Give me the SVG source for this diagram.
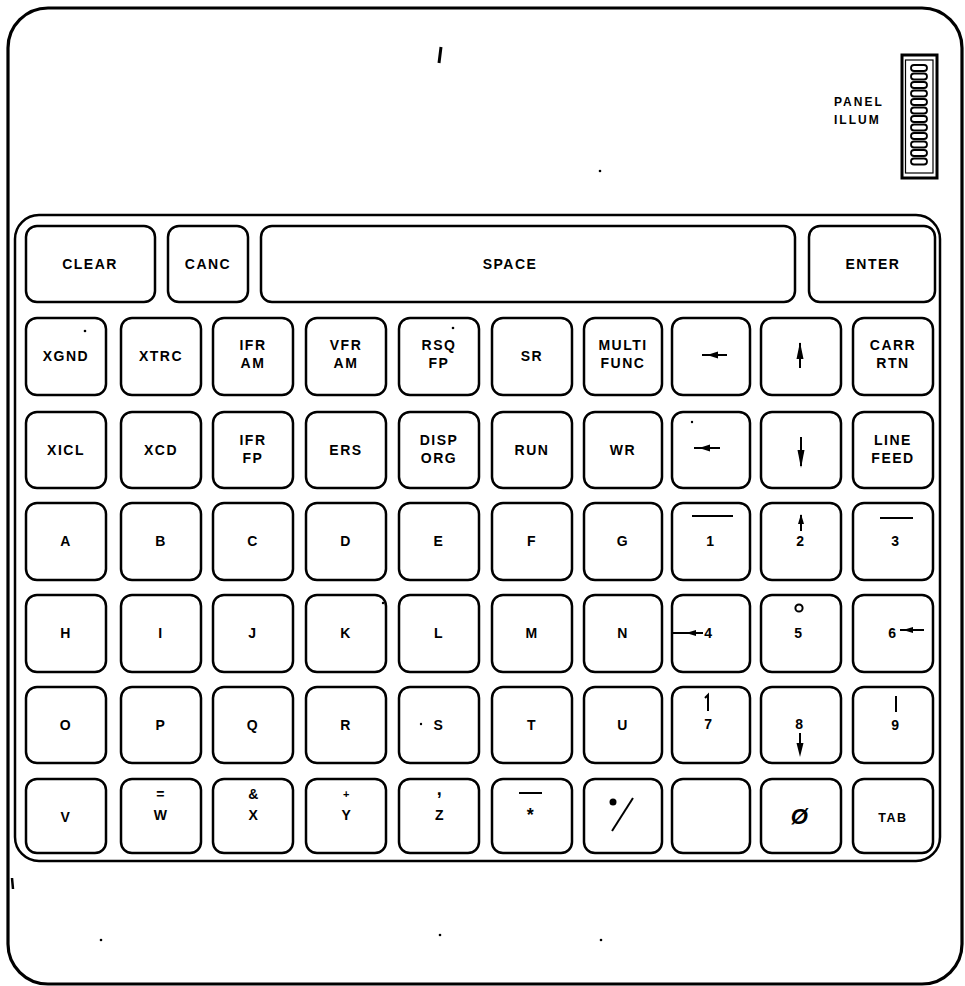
<svg xmlns="http://www.w3.org/2000/svg" width="965" height="986" viewBox="0 0 965 986">
<style>
.frame{fill:none;stroke:#000;stroke-width:3.2}
.inner{fill:none;stroke:#000;stroke-width:2.5}
.key{fill:#fff;stroke:#000;stroke-width:2.5}
.lbl{font-family:"Liberation Sans",Arial,sans-serif;font-weight:bold;font-size:14px;letter-spacing:1.5px;text-anchor:middle;fill:#000}
.sm{font-family:"Liberation Sans",Arial,sans-serif;font-weight:bold;font-size:12px;letter-spacing:2px;fill:#000}
.ln{stroke:#000;stroke-width:2;fill:none}
.hd{fill:#000;stroke:none}
.speck{fill:#000}
</style>
<rect width="965" height="986" fill="#fff"/>
<rect class="frame" x="8" y="8" width="954" height="976" rx="40"/>
<rect class="inner" x="15" y="215" width="925" height="646" rx="24"/>

<g id="panel-illum">
<text class="sm" x="834" y="106">PANEL</text>
<text class="sm" x="834" y="124">ILLUM</text>
<rect x="902" y="55" width="35" height="123" fill="none" stroke="#000" stroke-width="3"/>
<rect x="905.5" y="60" width="27.5" height="113" fill="none" stroke="#000" stroke-width="1.2"/>
<g fill="none" stroke="#000" stroke-width="1.8">
<rect x="911" y="65" width="16" height="6" rx="3"/>
<rect x="911" y="73.5" width="16" height="6" rx="3"/>
<rect x="911" y="82" width="16" height="6" rx="3"/>
<rect x="911" y="90.5" width="16" height="6" rx="3"/>
<rect x="911" y="99" width="16" height="6" rx="3"/>
<rect x="911" y="107.5" width="16" height="6" rx="3"/>
<rect x="911" y="116" width="16" height="6" rx="3"/>
<rect x="911" y="124.5" width="16" height="6" rx="3"/>
<rect x="911" y="133" width="16" height="6" rx="3"/>
<rect x="911" y="141.5" width="16" height="6" rx="3"/>
<rect x="911" y="150" width="16" height="6" rx="3"/>
<rect x="911" y="158.5" width="16" height="6" rx="3"/>
</g>
</g>

<g id="row1">
<g id="k-clear"><rect class="key" x="26" y="226" width="129" height="76" rx="11"/><text class="lbl" x="90" y="269">CLEAR</text></g>
<g id="k-canc"><rect class="key" x="168" y="226" width="80" height="76" rx="11"/><text class="lbl" x="208" y="269">CANC</text></g>
<g id="k-space"><rect class="key" x="261" y="226" width="534" height="76" rx="11"/><text class="lbl" x="510" y="269">SPACE</text></g>
<g id="k-enter"><rect class="key" x="809" y="226" width="126" height="76" rx="11"/><text class="lbl" x="873" y="269">ENTER</text></g>
</g>

<g id="row2">
<g id="k-xgnd"><rect class="key" x="26" y="318" width="80" height="77" rx="11"/><text class="lbl" x="66" y="361">XGND</text></g>
<g id="k-xtrc"><rect class="key" x="121" y="318" width="80" height="77" rx="11"/><text class="lbl" x="161" y="361">XTRC</text></g>
<g id="k-ifram"><rect class="key" x="213" y="318" width="80" height="77" rx="11"/><text class="lbl" x="253" y="350">IFR</text><text class="lbl" x="253" y="368">AM</text></g>
<g id="k-vfram"><rect class="key" x="306" y="318" width="80" height="77" rx="11"/><text class="lbl" x="346" y="350">VFR</text><text class="lbl" x="346" y="368">AM</text></g>
<g id="k-rsqfp"><rect class="key" x="399" y="318" width="80" height="77" rx="11"/><text class="lbl" x="439" y="350">RSQ</text><text class="lbl" x="439" y="368">FP</text></g>
<g id="k-sr"><rect class="key" x="492" y="318" width="80" height="77" rx="11"/><text class="lbl" x="532" y="361">SR</text></g>
<g id="k-multi"><rect class="key" x="584" y="318" width="78" height="77" rx="11"/><text class="lbl" x="623" y="350">MULTI</text><text class="lbl" x="623" y="368">FUNC</text></g>
<g id="k-left1"><rect class="key" x="672" y="318" width="78" height="77" rx="11"/><line class="ln" x1="702" y1="355" x2="727" y2="355"/><polygon class="hd" points="707,355 718,351.5 718,358.5"/></g>
<g id="k-up1"><rect class="key" x="761" y="318" width="80" height="77" rx="11"/><line class="ln" x1="800" y1="343" x2="800" y2="368"/><polygon class="hd" points="800,342 803.5,359 796.5,359"/></g>
<g id="k-carr"><rect class="key" x="853" y="318" width="80" height="77" rx="11"/><text class="lbl" x="893" y="350">CARR</text><text class="lbl" x="893" y="368">RTN</text></g>
</g>

<g id="row3">
<g id="k-xicl"><rect class="key" x="26" y="412" width="80" height="76" rx="11"/><text class="lbl" x="66" y="455">XICL</text></g>
<g id="k-xcd"><rect class="key" x="121" y="412" width="80" height="76" rx="11"/><text class="lbl" x="161" y="455">XCD</text></g>
<g id="k-ifrfp"><rect class="key" x="213" y="412" width="80" height="76" rx="11"/><text class="lbl" x="253" y="445">IFR</text><text class="lbl" x="253" y="463">FP</text></g>
<g id="k-ers"><rect class="key" x="306" y="412" width="80" height="76" rx="11"/><text class="lbl" x="346" y="455">ERS</text></g>
<g id="k-disp"><rect class="key" x="399" y="412" width="80" height="76" rx="11"/><text class="lbl" x="439" y="445">DISP</text><text class="lbl" x="439" y="463">ORG</text></g>
<g id="k-run"><rect class="key" x="492" y="412" width="80" height="76" rx="11"/><text class="lbl" x="532" y="455">RUN</text></g>
<g id="k-wr"><rect class="key" x="584" y="412" width="78" height="76" rx="11"/><text class="lbl" x="623" y="455">WR</text></g>
<g id="k-left2"><rect class="key" x="672" y="412" width="78" height="76" rx="11"/><line class="ln" x1="694" y1="448" x2="720" y2="448"/><polygon class="hd" points="699,448 710,444.5 710,451.5"/></g>
<g id="k-down"><rect class="key" x="761" y="412" width="80" height="76" rx="11"/><line class="ln" x1="801" y1="437" x2="801" y2="466"/><polygon class="hd" points="801,468 804.5,450 797.5,450"/></g>
<g id="k-lf"><rect class="key" x="853" y="412" width="80" height="76" rx="11"/><text class="lbl" x="893" y="445">LINE</text><text class="lbl" x="893" y="463">FEED</text></g>
</g>

<g id="row4">
<g id="k-a"><rect class="key" x="26" y="503" width="80" height="77" rx="11"/><text class="lbl" x="66" y="546">A</text></g>
<g id="k-b"><rect class="key" x="121" y="503" width="80" height="77" rx="11"/><text class="lbl" x="161" y="546">B</text></g>
<g id="k-c"><rect class="key" x="213" y="503" width="80" height="77" rx="11"/><text class="lbl" x="253" y="546">C</text></g>
<g id="k-d"><rect class="key" x="306" y="503" width="80" height="77" rx="11"/><text class="lbl" x="346" y="546">D</text></g>
<g id="k-e"><rect class="key" x="399" y="503" width="80" height="77" rx="11"/><text class="lbl" x="439" y="546">E</text></g>
<g id="k-f"><rect class="key" x="492" y="503" width="80" height="77" rx="11"/><text class="lbl" x="532" y="546">F</text></g>
<g id="k-g"><rect class="key" x="584" y="503" width="78" height="77" rx="11"/><text class="lbl" x="623" y="546">G</text></g>
<g id="k-1"><rect class="key" x="672" y="503" width="78" height="77" rx="11"/><line class="ln" x1="692" y1="516" x2="733" y2="516"/><text class="lbl" x="711" y="546">1</text></g>
<g id="k-2"><rect class="key" x="761" y="503" width="80" height="77" rx="11"/><line class="ln" x1="801" y1="515" x2="801" y2="531"/><polygon class="hd" points="801,514 804,524 798,524"/><text class="lbl" x="801" y="546">2</text></g>
<g id="k-3"><rect class="key" x="853" y="503" width="80" height="77" rx="11"/><line class="ln" x1="880" y1="518" x2="913" y2="518"/><text class="lbl" x="896" y="546">3</text></g>
</g>

<g id="row5">
<g id="k-h"><rect class="key" x="26" y="595" width="80" height="77" rx="11"/><text class="lbl" x="66" y="638">H</text></g>
<g id="k-i"><rect class="key" x="121" y="595" width="80" height="77" rx="11"/><text class="lbl" x="161" y="638">I</text></g>
<g id="k-j"><rect class="key" x="213" y="595" width="80" height="77" rx="11"/><text class="lbl" x="253" y="638">J</text></g>
<g id="k-k"><rect class="key" x="306" y="595" width="80" height="77" rx="11"/><text class="lbl" x="346" y="638">K</text></g>
<g id="k-l"><rect class="key" x="399" y="595" width="80" height="77" rx="11"/><text class="lbl" x="439" y="638">L</text></g>
<g id="k-m"><rect class="key" x="492" y="595" width="80" height="77" rx="11"/><text class="lbl" x="532" y="638">M</text></g>
<g id="k-n"><rect class="key" x="584" y="595" width="78" height="77" rx="11"/><text class="lbl" x="623" y="638">N</text></g>
<g id="k-4"><rect class="key" x="672" y="595" width="78" height="77" rx="11"/><line class="ln" x1="672" y1="633" x2="703" y2="633"/><polygon class="hd" points="686,633 696,630 696,636"/><text class="lbl" x="709" y="638">4</text></g>
<g id="k-5"><rect class="key" x="761" y="595" width="80" height="77" rx="11"/><circle cx="799" cy="608" r="3.6" fill="none" stroke="#000" stroke-width="2"/><text class="lbl" x="799" y="638">5</text></g>
<g id="k-6"><rect class="key" x="853" y="595" width="80" height="77" rx="11"/><text class="lbl" x="893" y="638">6</text><line class="ln" x1="900" y1="630" x2="924" y2="630"/><polygon class="hd" points="903,630 913,627 913,633"/></g>
</g>

<g id="row6">
<g id="k-o"><rect class="key" x="26" y="687" width="80" height="76" rx="11"/><text class="lbl" x="66" y="730">O</text></g>
<g id="k-p"><rect class="key" x="121" y="687" width="80" height="76" rx="11"/><text class="lbl" x="161" y="730">P</text></g>
<g id="k-q"><rect class="key" x="213" y="687" width="80" height="76" rx="11"/><text class="lbl" x="253" y="730">Q</text></g>
<g id="k-r"><rect class="key" x="306" y="687" width="80" height="76" rx="11"/><text class="lbl" x="346" y="730">R</text></g>
<g id="k-s"><rect class="key" x="399" y="687" width="80" height="76" rx="11"/><text class="lbl" x="439" y="730">S</text></g>
<g id="k-t"><rect class="key" x="492" y="687" width="80" height="76" rx="11"/><text class="lbl" x="532" y="730">T</text></g>
<g id="k-u"><rect class="key" x="584" y="687" width="78" height="76" rx="11"/><text class="lbl" x="623" y="730">U</text></g>
<g id="k-7"><rect class="key" x="672" y="687" width="78" height="76" rx="11"/><path class="ln" d="M705,698 L708,695 L708,711"/><text class="lbl" x="709" y="729">7</text></g>
<g id="k-8"><rect class="key" x="761" y="687" width="80" height="76" rx="11"/><text class="lbl" x="800" y="729">8</text><line class="ln" x1="800" y1="733" x2="800" y2="752"/><polygon class="hd" points="800,757 803.5,743 796.5,743"/></g>
<g id="k-9"><rect class="key" x="853" y="687" width="80" height="76" rx="11"/><line class="ln" x1="896" y1="696" x2="896" y2="712" stroke-width="2.5"/><text class="lbl" x="896" y="730">9</text></g>
</g>

<g id="row7">
<g id="k-v"><rect class="key" x="26" y="779" width="80" height="74" rx="11"/><text class="lbl" x="66" y="822">V</text></g>
<g id="k-w"><rect class="key" x="121" y="779" width="80" height="74" rx="11"/><text class="lbl" x="161" y="799">=</text><text class="lbl" x="161" y="820">W</text></g>
<g id="k-x"><rect class="key" x="213" y="779" width="80" height="74" rx="11"/><text class="lbl" x="254" y="799">&amp;</text><text class="lbl" x="254" y="820">X</text></g>
<g id="k-y"><rect class="key" x="306" y="779" width="80" height="74" rx="11"/><text class="lbl" x="347" y="798" style="font-size:11px">+</text><text class="lbl" x="347" y="820">Y</text></g>
<g id="k-z"><rect class="key" x="399" y="779" width="80" height="74" rx="11"/><text class="lbl" x="440" y="795" style="font-size:18px">,</text><text class="lbl" x="440" y="820">Z</text></g>
<g id="k-star"><rect class="key" x="492" y="779" width="80" height="74" rx="11"/><line class="ln" x1="519" y1="793" x2="542" y2="793"/><text class="lbl" x="531" y="821" style="font-size:18px">*</text></g>
<g id="k-slash"><rect class="key" x="584" y="779" width="78" height="74" rx="11"/><circle class="speck" cx="613" cy="802" r="3.5"/><line class="ln" x1="612" y1="831" x2="633" y2="798" stroke-width="2.5"/></g>
<g id="k-blank"><rect class="key" x="672" y="779" width="78" height="74" rx="11"/></g>
<g id="k-zero"><rect class="key" x="761" y="779" width="80" height="74" rx="11"/><text class="lbl" x="800" y="824" style="font-size:22px;font-style:italic">Ø</text></g>
<g id="k-tab"><rect class="key" x="853" y="779" width="80" height="74" rx="11"/><text class="lbl" x="893" y="822" style="font-size:12.5px">TAB</text></g>
</g>

<g id="specks">
<path d="M441,47 L439,63" stroke="#000" stroke-width="3" fill="none"/>
<circle class="speck" cx="600" cy="171" r="1.3"/>
<circle class="speck" cx="85" cy="331" r="1.3"/>
<circle class="speck" cx="453" cy="328" r="1.3"/>
<circle class="speck" cx="692" cy="422" r="1.2"/>
<circle class="speck" cx="383" cy="603" r="1.2"/>
<circle class="speck" cx="421" cy="724" r="1.2"/>
<path d="M12,878 L13,889" stroke="#000" stroke-width="2.5" fill="none"/>
<circle class="speck" cx="101" cy="940" r="1.3"/>
<circle class="speck" cx="440" cy="935" r="1.3"/>
<circle class="speck" cx="601" cy="940" r="1.3"/>
</g>
</svg>
